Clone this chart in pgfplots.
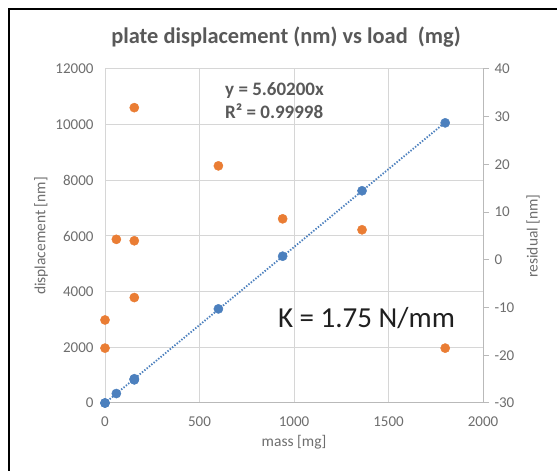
\documentclass[border=0pt]{standalone}
\usepackage{pgfplots}
\pgfplotsset{compat=1.18}
\usepackage{fontspec}
\setmainfont{Carlito}
\definecolor{ptblue}{RGB}{76,128,190}
\definecolor{ptorange}{RGB}{234,125,52}
\definecolor{titlegray}{RGB}{89,89,89}
\definecolor{tickgray}{RGB}{110,110,110}
\definecolor{gridgray}{RGB}{214,214,214}
\definecolor{axisgray}{RGB}{185,185,185}

\pgfplotsset{
  common/.style={
    at={(105pt,68pt)}, anchor=south west,
    width=378pt, height=334pt, scale only axis,
    xmin=0, xmax=2000,
    clip=false,
    scaled ticks=false,
    /pgf/number format/assume math mode=true,
    /pgf/number format/set thousands separator={},
    every tick label/.append style={font=\fontsize{15}{15}\selectfont, text=tickgray},
    label style={font=\fontsize{15.5}{16}\selectfont, text=tickgray},
  }
}

\begin{document}
\begin{tikzpicture}
\useasboundingbox (0pt,0pt) rectangle (557pt,471pt);
\fill[white] (0pt,0pt) rectangle (557pt,471pt);
\draw[black, line width=2pt] (9pt,0pt) -- (9pt,462pt) -- (557pt,462pt);

% primary axis: displacement vs mass
\begin{axis}[common,
  ymin=0, ymax=12000,
  xtick={0,500,...,2000}, ytick={0,2000,...,12000},
  axis x line*=bottom, axis y line*=left,
  x axis line style={draw=axisgray, line width=1pt, -},
  y axis line style={draw=none, -},
  major tick length=0pt,
  grid=major, grid style={gridgray, line width=1pt},
  yticklabel style={anchor=east, xshift=-8pt},
  xticklabel style={anchor=north, yshift=-10pt},
  xlabel={mass [mg]},
  xlabel style={at={(rel axis cs:0.5,0)}, anchor=center, yshift=-39pt},
  ylabel={displacement [nm]},
  ylabel style={at={(rel axis cs:0,0.5)}, anchor=center, yshift=64pt},
]
\addplot[ptblue, line width=1.8pt, dash pattern=on 1.4pt off 1.6pt, forget plot]
  coordinates {(0,0) (1800,10083.6)};
\addplot[only marks, mark=*, mark size=4.6pt, color=ptblue, mark options={draw=none, fill=ptblue}]
  coordinates {
    (0,0) (0,0) (60,340) (155,844) (155,872) (155,832)
    (600,3381) (940,5274) (1360,7625) (1800,10065)
  };
\end{axis}

% secondary axis: residuals
\begin{axis}[common,
  ymin=-30, ymax=40,
  ytick={-30,-20,...,40},
  axis y line*=right, axis x line=none,
  y axis line style={draw=axisgray, line width=1pt, -},
  ytick style={draw=axisgray, line width=1pt},
  tick align=outside, major tick length=6pt,
  yticklabel style={anchor=west, xshift=2pt},
  ylabel={residual [nm]},
  ylabel style={at={(rel axis cs:1,0.5)}, anchor=center, yshift=-50pt},
]
\addplot[only marks, mark=*, mark size=4.6pt, color=ptorange, mark options={draw=none, fill=ptorange}]
  coordinates {
    (0,-12.6) (0,-18.5) (60,4.3) (155,4.0) (155,31.9) (155,-7.9)
    (600,19.7) (940,8.6) (1360,6.3) (1800,-18.5)
  };
\end{axis}

\node[font=\bfseries\fontsize{22.4}{24}\selectfont, text=titlegray] at (286pt,434pt)
  {plate displacement (nm) vs load\ \ (mg)};
\node[font=\bfseries\fontsize{19}{20}\selectfont, text=titlegray, anchor=west, inner sep=0pt] at (225pt,380.5pt)
  {y = 5.60200x};
\node[font=\bfseries\fontsize{19}{20}\selectfont, text=titlegray, anchor=west, inner sep=0pt] at (225pt,360pt)
  {R² = 0.99998};
\node[font=\fontsize{29}{30}\selectfont, text=black!88] at (366.5pt,153pt)
  {K = 1.75 N/mm};
\end{tikzpicture}
\end{document}
